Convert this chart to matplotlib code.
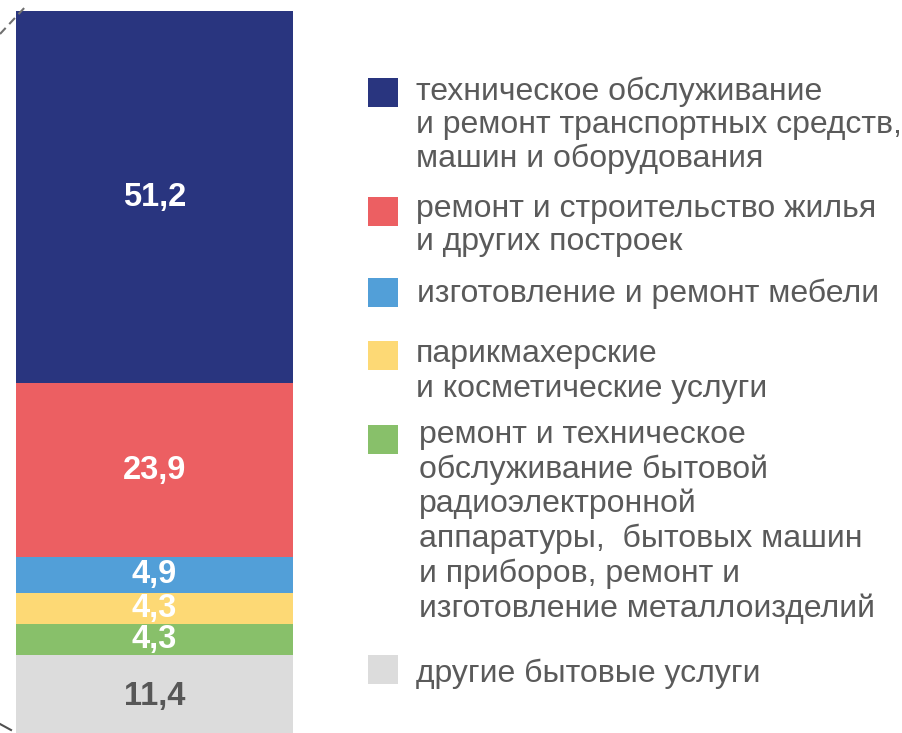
import matplotlib
matplotlib.use("Agg")
import matplotlib.pyplot as plt
from matplotlib.patches import Rectangle

plt.rcParams['font.family'] = ['Liberation Sans', 'DejaVu Sans']

# Data (bottom to top of the stacked bar)
categories = [
    "другие бытовые услуги",
    "ремонт и техническое\nобслуживание бытовой\nрадиоэлектронной\nаппаратуры,  бытовых машин\nи приборов, ремонт и\nизготовление металлоизделий",
    "парикмахерские\nи косметические услуги",
    "изготовление и ремонт мебели",
    "ремонт и строительство жилья\nи других построек",
    "техническое обслуживание\nи ремонт транспортных средств,\nмашин и оборудования",
]
values = [11.4, 4.3, 4.3, 4.9, 23.9, 51.2]
value_labels = ["11,4", "4,3", "4,3", "4,9", "23,9", "51,2"]
colors = ["#DCDCDC", "#88C06A", "#FDD975", "#529FD8", "#EC5F62", "#29357F"]
label_colors = ["#575757", "white", "white", "white", "white", "white"]

W, H = 902, 733
fig = plt.figure(figsize=(W / 100, H / 100), dpi=100)
ax = fig.add_axes([0, 0, 1, 1])
ax.set_xlim(0, W)
px_per_unit = 7.27
top_px = 11
ax.set_ylim(100 - (H - top_px) / px_per_unit, 100 + top_px / px_per_unit)
ax.axis('off')

bottom = 0
xc, bw = 154.5, 277
for v, c, lab, lc in zip(values, colors, value_labels, label_colors):
    ax.bar(xc, v, width=bw, bottom=bottom, color=c, linewidth=0)
    ax.text(xc, bottom + v / 2, lab, ha='center', va='center', color=lc,
            fontsize=23.5, fontweight='bold')
    bottom += v

# decorative connector lines (pixel coords -> figure coords)
def fx(x):
    return x / W

def fy(y):
    return 1 - y / H

fig.add_artist(plt.Line2D([fx(0), fx(27)], [fy(34), fy(5)], color='#707070',
                          lw=1.5, ls=(0, (4, 2.5))))
fig.add_artist(plt.Line2D([fx(0), fx(11)], [fy(724), fy(730)], color='#505050',
                          lw=1.5))

# Legend (top to bottom)
leg_sq_top = [78, 197, 278, 341, 425, 655]
leg_baseline = [100, 217, 302, 362, 443, 682]
leg_spacing = [33.5, 33, 34, 34.5, 34.7, 34]
leg_x = [416, 416, 417, 416, 419, 416]
order = list(range(len(categories)))[::-1]
for i, idx in enumerate(order):
    sq_top = leg_sq_top[i]
    fig.patches.append(Rectangle((fx(368), fy(sq_top + 29)), 30 / W, 29 / H,
                                 transform=fig.transFigure, color=colors[idx], lw=0))
    for j, line in enumerate(categories[idx].split("\n")):
        y = leg_baseline[i] + j * leg_spacing[i]
        fig.text(fx(leg_x[i]), fy(y), line, ha='left', va='baseline',
                 fontsize=23, color='#5A5A5A')

fig.savefig("out.png", dpi=100)
